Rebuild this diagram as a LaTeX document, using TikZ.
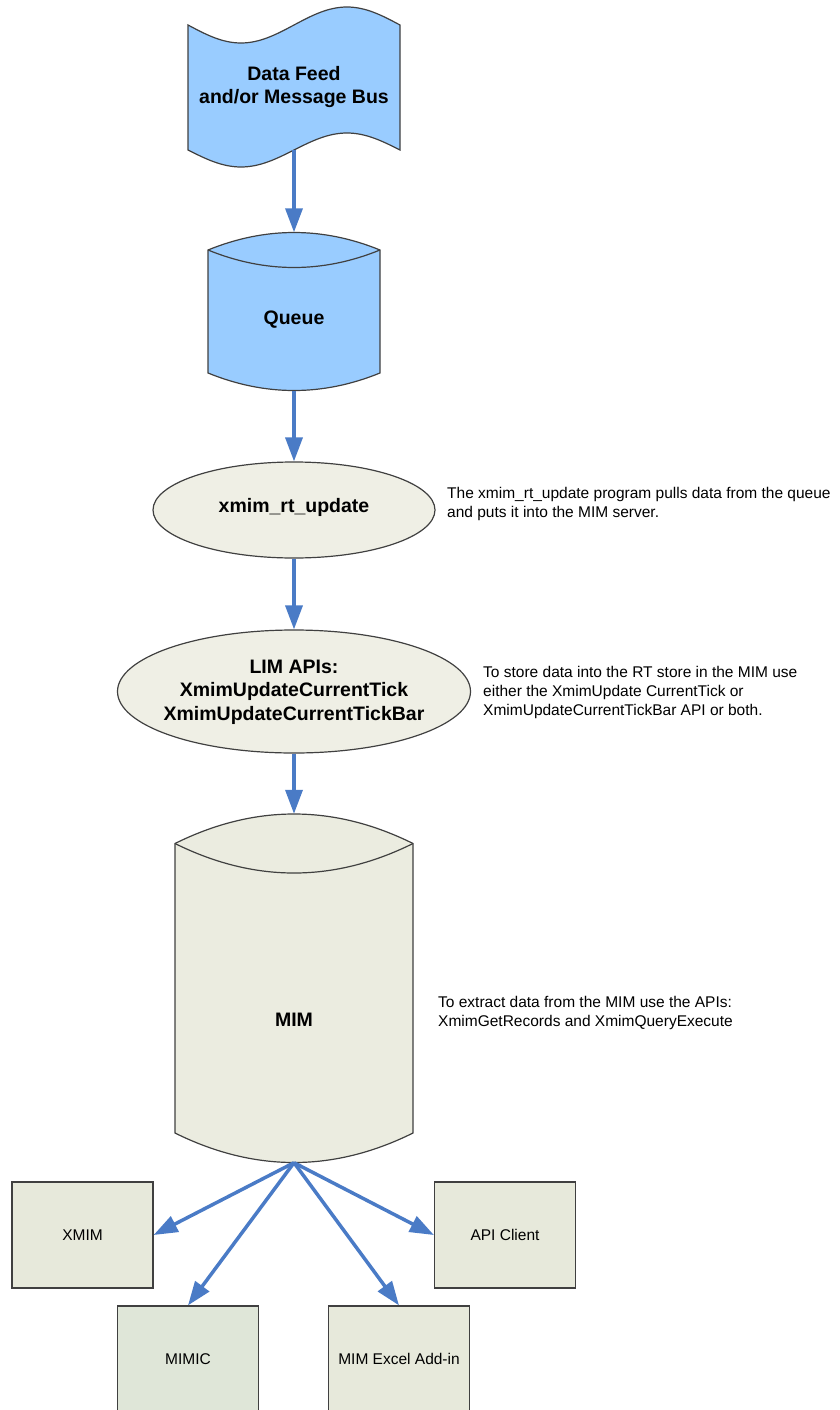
\documentclass[tikz,border=0pt]{standalone}
\usepackage{fontspec}
\setmainfont{Liberation Sans}
\usetikzlibrary{arrows.meta, shapes.geometric}
\definecolor{feedblue}{HTML}{99CCFF}
\definecolor{flowblue}{HTML}{4A7BC6}
\definecolor{edgegray}{HTML}{404040}
\definecolor{ovalfill}{HTML}{EFEFE5}
\definecolor{mimfill}{HTML}{EBECE0}
\definecolor{leaffill}{HTML}{E7E9DB}
\definecolor{mimicfill}{HTML}{DFE6D8}
\tikzset{
    shape edge/.style={draw=edgegray, line width=1.2pt}, % 图形轮廓
    flow/.style={draw=flowblue, line width=3.5pt, -{Triangle[length=24pt, width=17pt]}}, % 蓝色箭头
    hitbox/.style={rectangle, inner sep=0pt}, % 连线用的隐形框
    head text/.style={font=\fontsize{19.5}{23.5}\selectfont\bfseries, align=center, inner sep=0pt},
    note text/.style={font=\fontsize{15.5}{19}\selectfont, align=left, anchor=west, inner sep=0pt},
    oval/.style={ellipse, shape edge, fill=ovalfill, inner sep=0pt},
    leaf/.style={rectangle, shape edge, fill=leaffill, minimum width=141pt, minimum height=106pt,
        font=\fontsize{15.5}{19}\selectfont, inner sep=0pt}
}
% 圆柱: 名称, 填充, 左, 右, 侧边上端, 侧边下端, 弧高
\newcommand{\drum}[7]{%
    \filldraw[shape edge, fill=#2] (#3,#5) .. controls ({#3+(#4-#3)/3},{#5-4*#7/3}) and ({#4-(#4-#3)/3},{#5-4*#7/3}) .. (#4,#5)
        -- (#4,#6) .. controls ({#4-(#4-#3)/3},{#6+4*#7/3}) and ({#3+(#4-#3)/3},{#6+4*#7/3}) .. (#3,#6) -- cycle;
    \draw[shape edge] (#3,#5) .. controls ({#3+(#4-#3)/3},{#5+4*#7/3}) and ({#4-(#4-#3)/3},{#5+4*#7/3}) .. (#4,#5);
    \node[hitbox, minimum width={(#4-#3)*1pt}, minimum height={(#6-#5+2*#7)*1pt}] (#1) at ({(#3+#4)/2},{(#5+#6)/2}) {};
}

\begin{document}
\begin{tikzpicture}[x=1pt, y=-1pt]
    \useasboundingbox (0,0) rectangle (840,1410);
    \clip (0,0) rectangle (840,1410);

    \filldraw[shape edge, fill=feedblue] (188,25) sin (241,43) cos (294,25) sin (347,7) cos (400,25)
        -- (400,150) sin (347,133) cos (294,150) sin (241,167) cos (188,150) -- cycle;
    \node[hitbox, head text, minimum width=212pt, minimum height=126pt] (feed) at (294,87) {Data Feed\\and/or Message Bus};

    \drum{queue}{feedblue}{208}{380}{250}{373}{17.5}
    \node[head text] (queue-text) at (294,320) {Queue};

    \node[oval, minimum width=282pt, minimum height=96pt] (rtupdate) at (294,510) {};
    \node[head text] (rtupdate-text) at (294,507) {xmim\_rt\_update};
    \node[note text] (rtupdate-note) at (447,504) {The xmim\_rt\_update program pulls data from the queue\\and puts it into the MIM server.};

    \node[oval, minimum width=353pt, minimum height=123pt] (lim) at (294,691.5) {};
    \node[head text] (lim-text) at (294,692) {LIM APIs:\\XmimUpdateCurrentTick\\XmimUpdateCurrentTickBar};
    \node[note text] (lim-note) at (483,692) {To store data into the RT store in the MIM use\\either the XmimUpdate CurrentTick or\\XmimUpdateCurrentTickBar API or both.};

    \drum{mim}{mimfill}{175}{413}{843.5}{1133}{29.5}
    \node[head text] (mim-text) at (294,1020) {MIM};
    \node[note text] (mim-note) at (438,1012.5) {To extract data from the MIM use the APIs:\\XmimGetRecords and XmimQueryExecute};

    \node[leaf] (xmim) at (82.5,1235) {XMIM};
    \node[leaf] (api) at (505,1235) {API Client};
    \node[leaf, fill=mimicfill] (mimic) at (188,1359) {MIMIC};
    \node[leaf] (excel) at (399,1359) {MIM Excel Add-in};

    \draw[flow] (feed) -- (queue);
    \draw[flow] (queue) -- (rtupdate);
    \draw[flow] (rtupdate) -- (lim);
    \draw[flow] (lim) -- (mim);
    \foreach \t/\a in {xmim/east, mimic/north, excel/north, api/west}
        \draw[flow] (mim.south) -- (\t.\a);
\end{tikzpicture}
\end{document}
